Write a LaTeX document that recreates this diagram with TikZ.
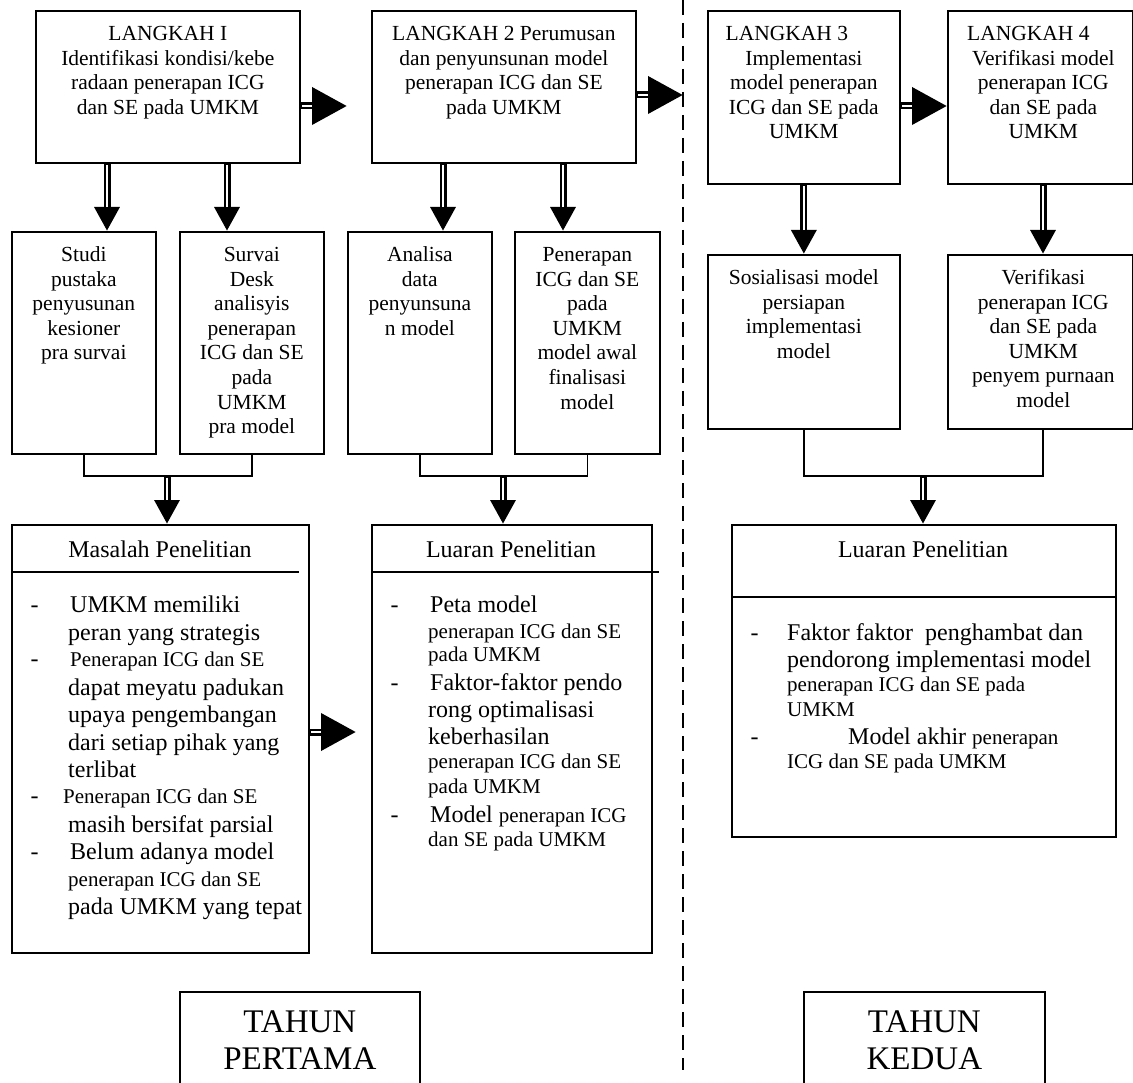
\documentclass[tikz,border=0pt]{standalone}
\usepackage{fontspec}
\setmainfont{Liberation Serif}
\usetikzlibrary{arrows.meta,calc}
% font sizes used in the chart
\newcommand\boxfont{\fontsize{21.5}{24.6}\selectfont}
\newcommand\fbig{\fontsize{24}{27.5}\selectfont}
\newcommand\fsm{\fontsize{21}{24}\selectfont}
\newcommand\yearfont{\fontsize{33}{37}\selectfont}
\begin{document}
\begin{tikzpicture}[x=1pt,y=-1pt,
  box/.style={draw, line width=1.7pt, inner sep=0pt, anchor=north west},
  boxtext/.style={font=\boxfont, align=center, inner sep=0pt, anchor=north},
  yeartext/.style={font=\yearfont, align=center, inner sep=0pt, anchor=north},
  link/.style={line width=1.6pt},
  headrule/.style={line width=1.3pt},
  harrow/.style={line width=7pt, -{Triangle[length=35pt,width=36pt]},
     postaction={draw=white, line width=2.4pt, -, shorten >=35pt, shorten <=1.5pt}},
  varrow/.style={line width=7pt, -{Triangle[length=24pt,width=24pt]},
     postaction={draw=white, line width=2.4pt, -, shorten >=24pt, shorten <=1.5pt}},
  divider/.style={line width=1.6pt, dash pattern=on 15pt off 8pt},
  item/.style={anchor=base west, inner sep=0pt},
  bullet/.style={anchor=base, inner sep=0pt, font=\fbig},
]
\fill[white] (0,0) rectangle (1133,1083);
\useasboundingbox (0,0) rectangle (1133,1083);

% ---- year divider
\draw[divider] (683,0) -- (683,1070);

% ---- step boxes
\node[box, minimum width=264pt, minimum height=152pt] (l1) at (35,10) {};
\node[box, minimum width=264pt, minimum height=152pt] (l2) at (371,10) {};
\node[box, minimum width=192pt, minimum height=173pt] (l3) at (707,10) {};
\node[box, minimum width=185pt, minimum height=173pt] (l4) at (947,10) {};

\node[boxtext] (l1t) at ([yshift=-13pt]l1.north)
  {\strut LANGKAH I\\Identifikasi kondisi/kebe\\radaan penerapan ICG\\dan SE pada UMKM};
\node[boxtext] (l2t) at ([yshift=-13pt]l2.north)
  {\strut LANGKAH 2 Perumusan\\dan penyunsunan model\\penerapan ICG dan SE\\pada UMKM};
\node[boxtext] (l3t) at ([yshift=-13pt]l3.north)
  {\strut LANGKAH 3\rule{34pt}{0pt}\\Implementasi\\model penerapan\\ICG dan SE pada\\UMKM};
\node[boxtext] (l4t) at ([xshift=3pt,yshift=-13pt]l4.north)
  {\strut LANGKAH 4\rule{30pt}{0pt}\\Verifikasi model\\penerapan ICG\\dan SE pada\\UMKM};

% ---- activity boxes
\node[box, minimum width=144pt, minimum height=222pt] (s1) at (11,231) {};
\node[box, minimum width=144pt, minimum height=222pt] (s2) at (179,231) {};
\node[box, minimum width=144pt, minimum height=222pt] (s3) at (347,231) {};
\node[box, minimum width=145pt, minimum height=222pt] (s4) at (514,231) {};
\node[box, minimum width=192pt, minimum height=174pt] (s5) at (707,254) {};
\node[box, minimum width=185pt, minimum height=174pt] (s6) at (947,254) {};

\node[boxtext] (s1t) at ([yshift=-13pt]s1.north)
  {\strut Studi\\pustaka\\penyusunan\\kesioner\\pra survai};
\node[boxtext] (s2t) at ([yshift=-13pt]s2.north)
  {\strut Survai\\Desk\\analisyis\\penerapan\\ICG dan SE\\pada\\UMKM\\pra model};
\node[boxtext] (s3t) at ([yshift=-13pt]s3.north)
  {\strut Analisa\\data\\penyunsuna\\n model};
\node[boxtext] (s4t) at ([yshift=-13pt]s4.north)
  {\strut Penerapan\\ICG dan SE\\pada\\UMKM\\model awal\\finalisasi\\model};
\node[boxtext] (s5t) at ([yshift=-13pt]s5.north)
  {\strut Sosialisasi model\\persiapan\\implementasi\\model};
\node[boxtext] (s6t) at ([xshift=3pt,yshift=-13pt]s6.north)
  {\strut Verifikasi\\penerapan ICG\\dan SE pada\\UMKM\\penyem purnaan\\model};

% ---- result boxes
\node[box, minimum width=297pt, minimum height=428pt] (m1) at (11,524) {};
\node[box, minimum width=280pt, minimum height=428pt] (o1) at (371,524) {};
\node[box, minimum width=384pt, minimum height=312pt] (o2) at (731,524) {};

\draw[headrule] ([yshift=-48pt]m1.north west) -- ++(288,0);
\draw[headrule] ([yshift=-48pt]o1.north west) -- ++(288,0);
\draw[headrule] ([yshift=-73pt]o2.north west) -- ([yshift=-73pt]o2.north east);

\node[anchor=base, inner sep=0pt, font=\fbig] (m1h) at (160,557.5) {Masalah Penelitian};
\node[anchor=base, inner sep=0pt, font=\fbig] (o1h) at (511,557.5) {Luaran Penelitian};
\node[anchor=base, inner sep=0pt, font=\fbig] (o2h) at (923,557.5) {Luaran Penelitian};

% problem list
\foreach \x/\y/\t [count=\i] in {
  70/612.5/{\fbig UMKM memiliki},
  68/640.5/{\fbig peran yang strategis},
  70/666.5/{\fsm Penerapan ICG dan SE},
  68/695.5/{\fbig dapat meyatu padukan},
  68/722.5/{\fbig upaya pengembangan},
  68/750.5/{\fbig dari setiap pihak yang},
  68/777.5/{\fbig terlibat},
  63/803.5/{\fsm Penerapan ICG dan SE},
  68/832.5/{\fbig masih bersifat parsial},
  70/859.5/{\fbig Belum adanya model},
  68/886.5/{\fsm penerapan ICG dan SE},
  68/914.5/{\fbig pada UMKM yang tepat}}
  \node[item] (mline\i) at (\x,\y) {\t};
\foreach \y [count=\i] in {612.5,666.5,803.5,859.5}
  \node[bullet] (mdash\i) at (34.5,\y) {-};

% first-year outputs
\foreach \x/\y/\t [count=\i] in {
  430/612.5/{\fbig Peta model},
  428/638.5/{\fsm penerapan ICG dan SE},
  428/661.5/{\fsm pada UMKM},
  430/690.5/{\fbig Faktor-faktor pendo},
  428/717.5/{\fbig rong optimalisasi},
  428/744.5/{\fbig keberhasilan},
  428/768.5/{\fsm penerapan ICG dan SE},
  428/793.5/{\fsm pada UMKM},
  430/822.5/{{\fbig Model }\fsm penerapan ICG},
  428/846.5/{\fsm dan SE pada UMKM}}
  \node[item] (aline\i) at (\x,\y) {\t};
\foreach \y [count=\i] in {612.5,690.5,822.5}
  \node[bullet] (adash\i) at (394.5,\y) {-};

% second-year outputs
\foreach \x/\y/\t [count=\i] in {
  787/640.5/{\fbig Faktor faktor\ \ penghambat dan},
  787/667.5/{\fbig pendorong implementasi model},
  787/691.5/{\fsm penerapan ICG dan SE pada},
  787/716.5/{\fsm UMKM},
  848/744.5/{{\fbig Model akhir }\fsm penerapan},
  787/768.5/{\fsm ICG dan SE pada UMKM}}
  \node[item] (bline\i) at (\x,\y) {\t};
\foreach \y [count=\i] in {640.5,744.5}
  \node[bullet] (bdash\i) at (754.5,\y) {-};

% ---- year labels
\node[box, minimum width=240pt, minimum height=130pt] (y1) at (179,991) {};
\node[box, minimum width=241pt, minimum height=130pt] (y2) at (803,991) {};
\node[yeartext] (y1t) at ([yshift=-15pt]y1.north) {\strut TAHUN\\PERTAMA};
\node[yeartext] (y2t) at ([yshift=-15pt]y2.north) {\strut TAHUN\\KEDUA};

% ---- horizontal arrows between steps
\coordinate (t12) at (347,106);
\coordinate (t23) at (683,95);
\coordinate (t34) at (0,106);
\coordinate (tml) at (356,732);
\draw[harrow] (l1.east |- t12) -- (t12);
\draw[harrow] (l2.east |- t23) -- (t23);
\draw[harrow] (l3.east |- t34) -- (l4.west |- t34);
\draw[harrow] (m1.east |- tml) -- (tml);

% ---- arrows from steps to activities
\coordinate (c1) at (107,0);
\coordinate (c2) at (227,0);
\coordinate (c3) at (443,0);
\coordinate (c4) at (563,0);
\coordinate (c6) at (1043,0);
\draw[varrow] (l1.south -| c1) -- (s1.north -| c1);
\draw[varrow] (l1.south -| c2) -- (s2.north -| c2);
\draw[varrow] (l2.south -| c3) -- (s3.north -| c3);
\draw[varrow] (l2.south -| c4) -- (s4.north -| c4);
\draw[varrow] (l3.south) -- (s5.north);
\draw[varrow] (l4.south -| c6) -- (s6.north -| c6);

% ---- joins into result boxes
\coordinate (j1) at (167,476);
\coordinate (j2) at (503,476);
\coordinate (j3) at (923,476);
\draw[link] (s1.south) |- (j1) -| (s2.south);
\draw[link] (s3.south) |- (j2) -| (s4.south);
\draw[link] (s5.south) |- (j3) -| (s6.south -| c6);
\draw[varrow] (j1) -- (m1.north -| j1);
\draw[varrow] (j2) -- (o1.north -| j2);
\draw[varrow] (j3) -- (o2.north -| j3);
\end{tikzpicture}
\end{document}
